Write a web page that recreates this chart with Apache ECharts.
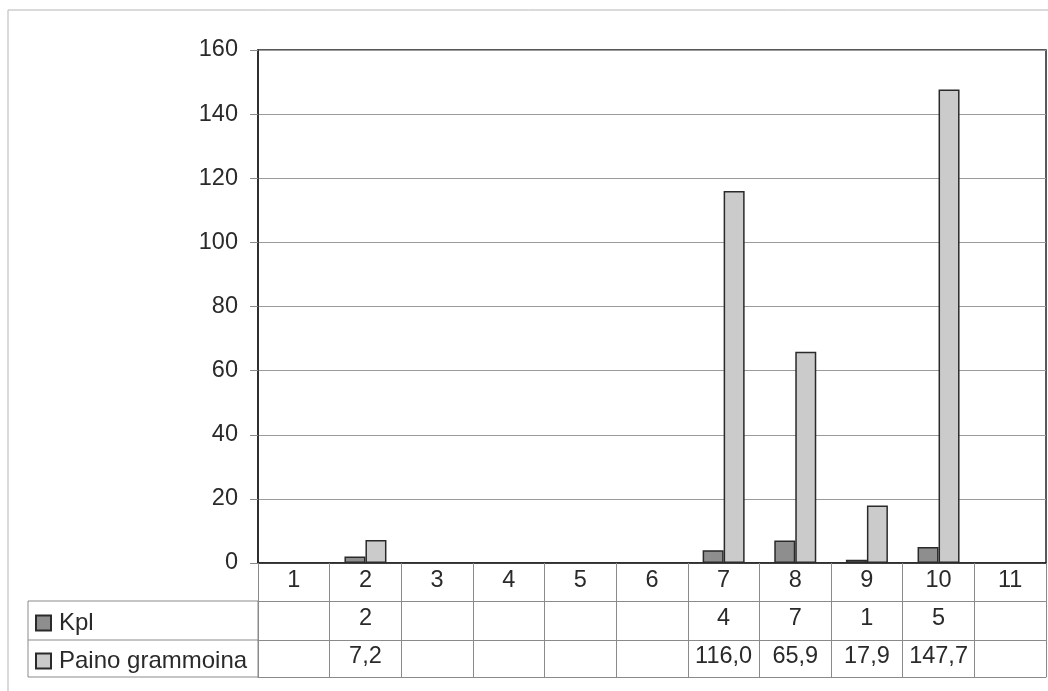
<!DOCTYPE html>
<html>
<head>
<meta charset="utf-8">
<script src="https://cdn.jsdelivr.net/npm/echarts@6/dist/echarts.min.js"></script>
<style>
html,body{margin:0;padding:0;background:#fff;}
#c{width:1048px;height:691px;}
</style>
</head>
<body>
<div id="c"></div>
<script>
var categories = ['1','2','3','4','5','6','7','8','9','10','11'];
var kplValues = [null, 2, null, null, null, null, 4, 7, 1, 5, null];
var painoValues = [null, 7.2, null, null, null, null, 116.0, 65.9, 17.9, 147.7, null];
var seriesNames = ['Kpl', 'Paino grammoina'];
var yTicks = {min: 0, max: 160, interval: 20};

var kplLabels = kplValues.map(function (v) { return v == null ? '' : String(v); });
var painoLabels = painoValues.map(function (v) { return v == null ? '' : v.toFixed(1).replace('.', ','); });

var FONT = 'Liberation Sans, Arial, sans-serif';
var FS = 23.5;
var TXT = '#2a2a2a';
var TABLE = '#8a8a8a';

var chart = echarts.init(document.getElementById('c'), null, {renderer: 'canvas'});

function tableAxis(data, offset, tickLen, margin, showLabel) {
  return {
    type: 'category',
    data: data,
    position: 'bottom',
    offset: offset,
    axisLine: {show: true, onZero: false, lineStyle: {color: TABLE, width: 1}},
    axisTick: {show: tickLen > 0, length: tickLen, interval: 0, lineStyle: {color: TABLE, width: 1}},
    axisLabel: {show: showLabel, interval: 0, fontSize: FS, fontFamily: FONT, color: TXT, margin: margin},
    splitLine: {show: false}
  };
}

var option = {
  backgroundColor: '#fff',
  animation: false,
  grid: {left: 258, right: 2, top: 50, bottom: 128, show: true, borderColor: '#222', borderWidth: 1.5, backgroundColor: 'transparent'},
  legend: {
    orient: 'vertical',
    left: 30,
    top: 606,
    itemWidth: 15,
    itemHeight: 15,
    itemGap: 14,
    icon: 'rect',
    textStyle: {fontSize: 24, fontFamily: FONT, color: TXT, padding: [0, 0, 0, 3]},
    data: seriesNames
  },
  graphic: [
    {type: 'rect', shape: {x: 8, y: 10, width: 1200, height: 800}, style: {fill: 'none', stroke: '#b5b5b5', lineWidth: 1}, silent: true},
    {type: 'rect', shape: {x: 28, y: 601, width: 230, height: 76}, style: {fill: 'none', stroke: TABLE, lineWidth: 1}, silent: true},
    {type: 'line', shape: {x1: 28, y1: 640, x2: 258, y2: 640}, style: {stroke: TABLE, lineWidth: 1}, silent: true}
  ],
  xAxis: [
    {
      type: 'category',
      data: categories,
      position: 'bottom',
      axisLine: {show: true, lineStyle: {color: '#222', width: 1.5}},
      axisTick: {show: true, length: 38, interval: 0, lineStyle: {color: TABLE, width: 1}},
      axisLabel: {interval: 0, fontSize: FS, fontFamily: FONT, color: TXT, margin: 6},
      splitLine: {show: false}
    },
    tableAxis(kplLabels, 38, 39, 6, true),
    tableAxis(painoLabels, 77, 37, 5, true),
    tableAxis(categories, 114, 0, 0, false)
  ],
  yAxis: {
    type: 'value',
    min: yTicks.min,
    max: yTicks.max,
    interval: yTicks.interval,
    axisLine: {show: true, lineStyle: {color: '#222', width: 1.5}},
    axisTick: {show: true, length: 8, lineStyle: {color: TABLE}},
    axisLabel: {fontSize: FS, fontFamily: FONT, color: TXT, margin: 20},
    splitLine: {show: true, lineStyle: {color: '#9a9a9a', width: 1}}
  },
  series: [
    {
      name: seriesNames[0],
      type: 'bar',
      data: kplValues,
      barWidth: 21,
      barGap: '0%',
      itemStyle: {color: '#8e8e8e', borderColor: '#2a2a2a', borderWidth: 1.5}
    },
    {
      name: seriesNames[1],
      type: 'bar',
      data: painoValues,
      barWidth: 21,
      barGap: '0%',
      itemStyle: {color: '#cbcbcb', borderColor: '#2a2a2a', borderWidth: 1.5}
    }
  ]
};
chart.setOption(option);
</script>
</body>
</html>
